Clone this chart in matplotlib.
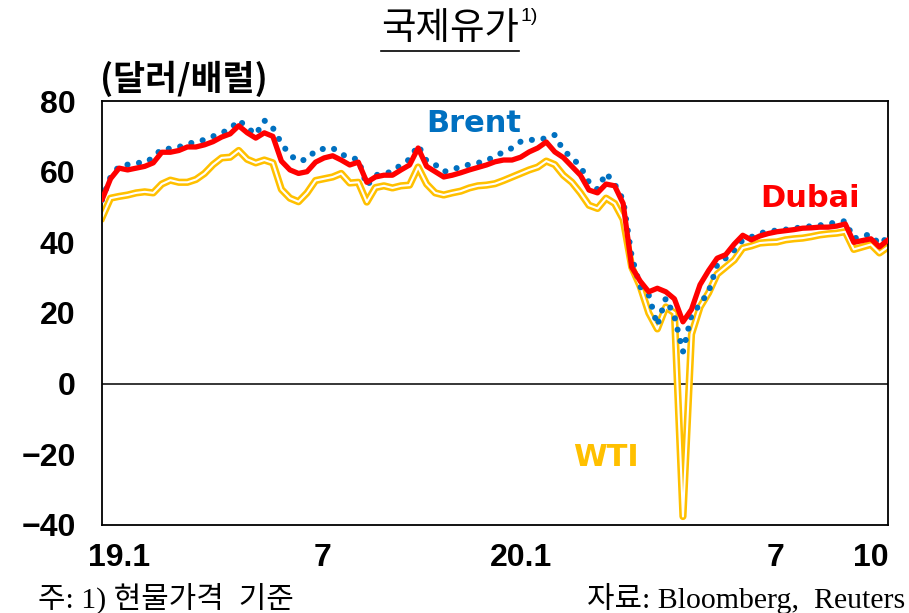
import matplotlib
matplotlib.use('Agg')
import matplotlib.pyplot as plt
import pandas as pd
from matplotlib.lines import Line2D

plt.rcParams['font.family'] = ['DejaVu Sans', 'Noto Sans CJK KR']
plt.rcParams['axes.unicode_minus'] = True

# Weekly readings (Wednesdays), USD per barrel
dates = pd.date_range('2019-01-02', periods=93, freq='7D')

dubai = [
    52, 58, 61, 60.5, 61, 61.5, 62.5, 65.5, 65.5, 66,
    67, 67, 67.6, 68.5, 69.8, 70.7, 73, 71, 69.5, 71,
    70, 63, 60.5, 59.5, 60, 62.7, 63.9, 64.5, 63.3, 61.9,
    62.7, 57, 58.5, 59, 59, 60.5, 61.9, 66.7, 61.5, 60,
    58.5, 59, 59.7, 60.5, 61.2, 61.9, 62.8, 63.3, 63.3, 64.1,
    65.6, 66.7, 68.4, 65.6, 64, 61.5, 59, 54.8, 54, 56.5,
    56, 51, 33, 29, 26, 27, 26, 24, 17.5, 21,
    28, 32, 35.5, 36.5, 39.5, 42, 40.7, 41.8, 42.5, 43,
    43.3, 43.6, 44, 44.1, 44.3, 44.3, 44.6, 45.2, 40, 40.5,
    41, 38.7, 40.7,
]

brent = [
    52, 58.5, 61.5, 62, 62.5, 62.5, 64, 66.5, 66.5, 67,
    67.8, 68.5, 69, 70, 71, 72, 74.6, 72.5, 70.5, 74.5,
    72.4, 68, 64.7, 63, 63.5, 66, 66.5, 66.7, 65, 63.9,
    63.5, 56, 59, 59.5, 60, 62, 63.5, 67.5, 63, 62,
    60, 60.5, 61.5, 62, 62.5, 63, 64.5, 65.5, 66.7, 68.5,
    69, 69, 69.5, 70.4, 66, 64, 61.5, 57, 55, 59.6,
    56.5, 52, 36, 27.4, 25, 16.5, 24.2, 19, 9, 19.4,
    22.5, 26, 33.6, 35.5, 37.8, 40.7, 41.5, 42.6, 43, 43.4,
    43.6, 44, 44.2, 44.6, 44.8, 45.2, 45.7, 46, 41, 42,
    42.1, 39.4, 41.5,
]

wti = [
    47, 52.5, 53, 53.4, 54, 54.3, 54, 56.5, 57.6, 57,
    57, 57.8, 59.5, 62, 63.9, 64.1, 66, 63.5, 62.5, 63.3,
    62.5, 55, 52.5, 51.5, 54, 57.5, 58, 58.5, 59.5, 56.8,
    57, 51.4, 55.5, 56, 55.4, 56, 56.2, 61.3, 56.5, 54,
    53.4, 54, 54.5, 55.4, 56, 56.2, 56.6, 57.5, 58.5, 59.5,
    60.5, 61.3, 63, 62, 59, 57, 54, 50.5, 49.6, 52.5,
    51, 46.5, 33, 27.5, 20, 15.5, 21.7, 20, -37.6, 14,
    21.7, 25.7, 31, 33, 35, 38.4, 39, 39.8, 40, 40.1,
    40.7, 41, 41.2, 41.6, 42.1, 42.4, 42.6, 43, 38, 38.7,
    39.4, 37, 38.7,
]

x_tick_dates = ['2019-01-16', '2019-07-02', '2019-12-11', '2020-07-07', '2020-09-23']
x_tick_labels = ['19.1', '7', '20.1', '7', '10']
y_ticks = [-40, -20, 0, 20, 40, 60, 80]

fig = plt.figure(figsize=(9.09, 6.13), dpi=100)
ax = fig.add_axes([0.1122, 0.1436, 0.8647, 0.6916])

ax.plot(dates, wti, color='#FFC000', lw=5.2, solid_joinstyle='round', zorder=2)
ax.plot(dates, wti, color='white', lw=1.5, solid_joinstyle='round', zorder=2.1)
ax.plot(dates, brent, color='#0070C0', lw=4.4, linestyle=(0, (0.01, 1.9)),
        dash_capstyle='round', zorder=3)
ax.plot(dates, dubai, color='#FF0000', lw=3.8, solid_joinstyle='round',
        solid_capstyle='round', zorder=4)

ax.axhline(0, color='black', lw=1.1, zorder=1)

ax.set_xlim(dates[0], dates[-1])
ax.set_ylim(-40, 80)
ax.set_yticks(y_ticks)
ax.set_xticks(pd.to_datetime(x_tick_dates))
ax.set_xticklabels(x_tick_labels)
ax.tick_params(length=0)
ax.tick_params(axis='y', pad=19)
ax.tick_params(axis='x', pad=13)
for lab in ax.get_xticklabels() + ax.get_yticklabels():
    lab.set_fontfamily('Liberation Sans')
    lab.set_fontweight('bold')
    lab.set_fontsize(23)
for sp in ax.spines.values():
    sp.set_linewidth(1.3)
    sp.set_color('black')

# series labels
ax.text(0.473, 0.948, 'Brent', transform=ax.transAxes, ha='center', va='center',
        fontsize=22, fontweight='bold', color='#0070C0')
ax.text(0.901, 0.771, 'Dubai', transform=ax.transAxes, ha='center', va='center',
        fontsize=22, fontweight='bold', color='#FF0000')
ax.text(0.641, 0.158, 'WTI', transform=ax.transAxes, ha='center', va='center',
        fontsize=22, fontweight='bold', color='#FFC000')

# title with underline and footnote mark
title = fig.text(0.495, 0.953, '국제유가', ha='center', va='center', fontsize=27,
                 family=['Noto Sans CJK KR'])
fig.text(0.1100, 0.871, '(달러/배럴)', ha='left', va='center', fontsize=25,
         fontweight='bold', family=['Noto Sans CJK KR'])

fig.text(38 / 909, 1 - 598 / 613, '주: 1) 현물가격  기준', ha='left', va='center',
         fontsize=21.5, family=['Liberation Serif', 'Noto Sans CJK KR'])
fig.text(905 / 909, 1 - 598 / 613, '자료: Bloomberg,  Reuters', ha='right', va='center',
         fontsize=21.5, family=['Liberation Serif', 'Noto Sans CJK KR'])

fig.canvas.draw()
bb = title.get_window_extent().transformed(fig.transFigure.inverted())
fig.text(bb.x1 + 0.002, bb.y1 + 0.002, '1)', ha='left', va='top', fontsize=14,
         family=['Liberation Sans'])
fig.add_artist(Line2D([bb.x0, bb.x1], [bb.y0 - 0.004] * 2, color='black', lw=1.2,
                      transform=fig.transFigure))

fig.savefig('out.png', dpi=100)
